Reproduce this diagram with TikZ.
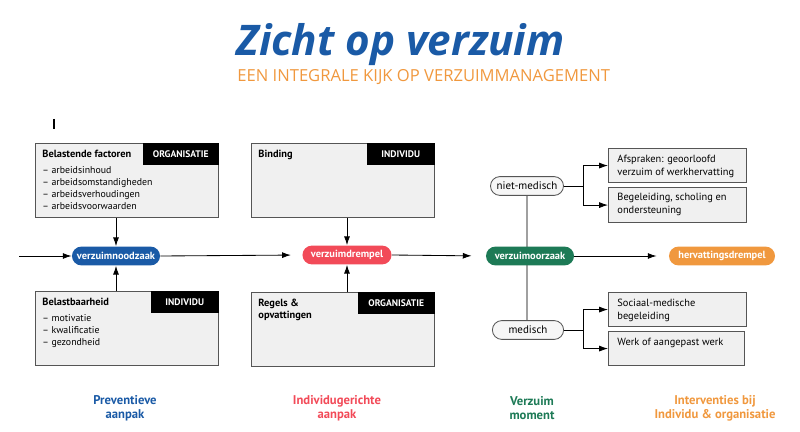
\documentclass[tikz,border=0pt]{standalone}
\usepackage{fontspec}
\setmainfont{PT Sans}
\newfontfamily\titlefont{Open Sans}
\usetikzlibrary{arrows.meta, positioning, calc, backgrounds}
\definecolor{cblue}{HTML}{1A5AA6}
\definecolor{corange}{HTML}{F0983E}
\definecolor{cred}{HTML}{F24A58}
\definecolor{cgreen}{HTML}{1D7A56}
\definecolor{cbox}{HTML}{F0F0F0}
\definecolor{cline}{HTML}{555555}
\definecolor{cgrey}{HTML}{A0A0A0}
\tikzset{
  every picture/.style={line width=0.6pt},
  box/.style={draw=cline, fill=cbox, line width=0.8pt, minimum width=4.575cm, minimum height=1.85cm, anchor=north west, inner sep=0pt},
  sbox/.style={draw=cline, fill=cbox, line width=0.8pt, minimum width=3.45cm, minimum height=0.85cm, anchor=north west, inner sep=0pt},
  tag/.style={fill=black, text=white, font=\fontsize{6.8}{7}\selectfont\bfseries, anchor=north east, minimum height=0.55cm, inner sep=0pt},
  head/.style={font=\fontsize{7.4}{8.6}\selectfont\bfseries, anchor=north west, align=left, inner sep=0pt},
  items/.style={font=\fontsize{7}{8.6}\selectfont, anchor=north west, align=left, inner sep=0pt},
  stext/.style={font=\fontsize{7.4}{8.8}\selectfont, anchor=north west, align=left, inner sep=0pt},
  pill/.style={fill=#1, rounded corners=0.235cm, minimum height=0.47cm, text=white, font=\fontsize{7.4}{8}\selectfont\bfseries, inner sep=0pt},
  pillo/.style={draw=cline, fill=cbox!60, rounded corners=0.235cm, minimum height=0.47cm, font=\fontsize{7.8}{8}\selectfont, inner sep=0pt},
  arrow/.style={-{Latex[length=2.2mm, width=1.5mm]}},
  lbl/.style={font=\fontsize{9}{10}\selectfont\bfseries, align=center},
  ttl/.style={font=\titlefont\fontsize{30}{33}\selectfont\bfseries\itshape, text=cblue, inner sep=0pt},
  subttl/.style={font=\titlefont\fontsize{11.8}{13}\selectfont, text=corange, inner sep=0pt},
}

\begin{document}
\begin{tikzpicture}[x=0.025cm, y=-0.025cm]
  \useasboundingbox (0,0) rectangle (800,432);
  % title
  \node[ttl, anchor=west] (title) at (236,45) {Zicht op verzuim};
  \node[subttl, anchor=west] (subtitle) at (237,77) {EEN INTEGRALE KIJK OP VERZUIMMANAGEMENT};
  \draw[line width=1pt] (54,119) -- (54,129);
  % preventief
  \node[box] (fact) at (35,143) {};
  \node[tag, minimum width=1.9cm] (factTag) at (fact.north east) {ORGANISATIE};
  \node[head] (factHead) at (42,150) {Belastende factoren};
  \node[items] (factItems) at (42,166) {– arbeidsinhoud\\– arbeidsomstandigheden\\– arbeidsverhoudingen\\– arbeidsvoorwaarden};
  \node[box] (belast) at (35,291) {};
  \node[tag, minimum width=1.7cm] (belastTag) at (belast.north east) {INDIVIDU};
  \node[head] (belastHead) at (42,298) {Belastbaarheid};
  \node[items] (belastItems) at (42,314) {– motivatie\\– kwalificatie\\– gezondheid};
  % individugericht
  \node[box] (bind) at (251,143) {};
  \node[tag, minimum width=1.7cm] (bindTag) at (bind.north east) {INDIVIDU};
  \node[head] (bindHead) at (258,150) {Binding};
  \node[box] (regels) at (251,292) {};
  \node[tag, minimum width=1.925cm] (regelsTag) at (regels.north east) {ORGANISATIE};
  \node[head] (regelsHead) at (258,299) {Regels \&\\opvattingen};
  % main line
  \coordinate (start) at (19,256);
  \node[pill=cblue, minimum width=2.2cm] (nood) at (116,256) {verzuimnoodzaak};
  \node[pill=cred, minimum width=2.225cm] (drempel) at (347,255) {verzuimdrempel};
  \node[pill=cgreen, minimum width=2.2cm] (oorzaak) at (530,256) {verzuimoorzaak};
  \node[pill=corange, minimum width=2.65cm] (herv) at (722,256) {hervattingsdrempel};
  \draw[arrow] (start) -- (nood.west);
  \draw[arrow, shorten >=0.28cm] (nood.east) -- (drempel.west);
  \draw[arrow, shorten >=0.35cm] (drempel.east) -- (oorzaak.west);
  \draw[arrow, shorten >=0.3cm] (oorzaak.east) -- (herv.west);
  \draw[arrow] (nood.north |- fact.south) -- (nood.north);
  \draw[arrow] (nood.south |- belast.north) -- (nood.south);
  \draw[arrow] (drempel.north |- bind.south) -- (drempel.north);
  \draw[arrow] (drempel.south |- regels.north) -- (drempel.south);
  % verzuimmoment
  \node[pillo, minimum width=1.825cm] (niet) at (527,186) {niet-medisch};
  \node[pillo, minimum width=1.78cm] (medisch) at (528,330) {medisch};
  \begin{scope}[on background layer]
    \draw[cgrey, line width=0.8pt] (niet.south) -- (niet.south |- medisch.north);
  \end{scope}
  % interventies
  \node[sbox] (afsp) at (608,148) {};
  \node[stext] (afspText) at (617,155) {Afspraken: geoorloofd\\verzuim of werkhervatting};
  \node[sbox, minimum height=0.875cm] (begel) at (608,187) {};
  \node[stext] (begelText) at (617,193) {Begeleiding, scholing en\\ondersteuning};
  \node[sbox] (sociaal) at (608,292) {};
  \node[stext] (sociaalText) at (617,299) {Sociaal-medische\\begeleiding};
  \node[sbox, minimum width=3.4cm] (werk) at (608,331) {};
  \node[stext] (werkText) at (617,338) {Werk of aangepast werk};
  \coordinate (nietJ) at (583,186);
  \coordinate (medJ) at (583,330);
  \draw (niet.east) -- (nietJ);
  \draw[arrow] (nietJ) |- (afsp.west);
  \draw[arrow] (nietJ) |- (begel.west);
  \draw (medisch.east) -- (medJ);
  \draw[arrow] (medJ) |- (sociaal.west);
  \draw[arrow] (medJ) |- (werk.west);
  % bottom labels
  \foreach \x/\c/\t [count=\i] in {125/cblue/{Preventieve\\aanpak}, 337/cred/{Individugerichte\\aanpak}, 532/cgreen/{Verzuim\\moment}, 715/corange/{Interventies bij\\Individu \& organisatie}}
    \node[lbl, text=\c] (lbl\i) at (\x,408) {\t};
\end{tikzpicture}
\end{document}
